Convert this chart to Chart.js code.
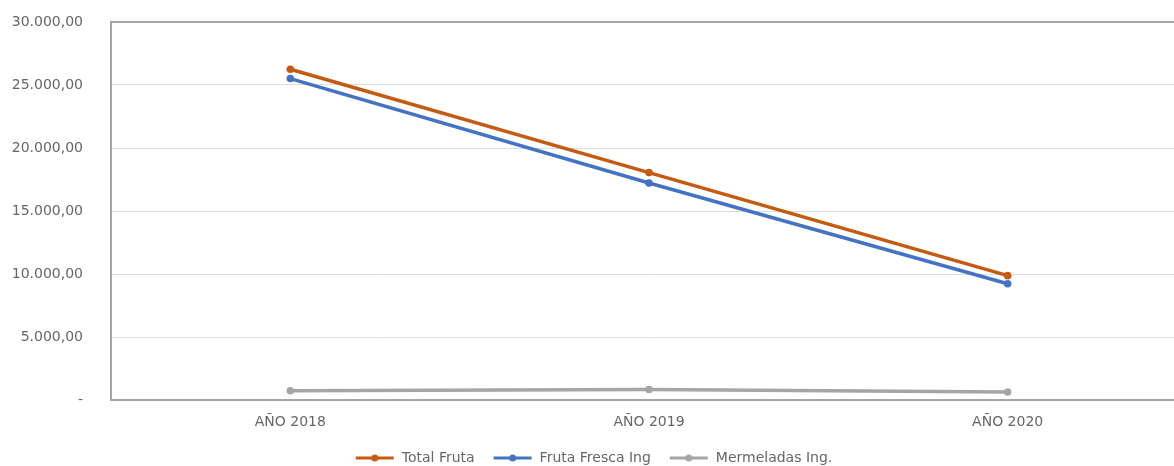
<!DOCTYPE html>
<html>
<head>
<meta charset="utf-8">
<script src="https://cdn.jsdelivr.net/npm/chart.js@4"></script>
<style>
  html, body { margin: 0; padding: 0; background: #fff; overflow: hidden; }
  #wrap { width: 1174px; height: 466px; overflow: hidden; }
</style>
</head>
<body>
<div id="wrap"><canvas id="chart" width="1200" height="475"></canvas></div>
<script>
const years = ['AÑO 2018', 'AÑO 2019', 'AÑO 2020'];
const totalFruta = [26250, 18050, 9870];
const frutaFresca = [25510, 17220, 9230];
const mermeladas = [740, 830, 640];
const seriesNames = ['Total Fruta', 'Fruta Fresca Ing', 'Mermeladas Ing.'];
const seriesColors = ['#C55A11', '#4472C4', '#A5A5A5'];

const textColor = '#666666';
const fontFamily = "'DejaVu Sans', sans-serif";

// formats 25000 as 25.000,00, zero as a dash like the spreadsheet
function fmt(v) {
  if (v === 0) return '-';
  const s = Math.round(v).toString().replace(/\B(?=(\d{3})+(?!\d))/g, '.');
  return s + ',00';
}

// small line+dot icon for the legend
function legendIcon(color) {
  const c = document.createElement('canvas');
  c.width = 40; c.height = 10;
  const g = c.getContext('2d');
  g.strokeStyle = color;
  g.lineWidth = 3;
  g.beginPath(); g.moveTo(1, 5); g.lineTo(39, 5); g.stroke();
  g.fillStyle = color;
  g.beginPath(); g.arc(20, 5, 3.5, 0, Math.PI * 2); g.fill();
  return c;
}

const data = [totalFruta, frutaFresca, mermeladas];
const datasets = data.map((d, i) => ({
  label: seriesNames[i],
  data: d,
  borderColor: seriesColors[i],
  backgroundColor: seriesColors[i],
  borderWidth: 3.5,
  pointRadius: 3.8,
  pointBorderWidth: 0,
  pointHoverRadius: 3.8,
  pointStyle: 'circle',
  tension: 0
}));

new Chart(document.getElementById('chart'), {
  type: 'line',
  data: { labels: years, datasets: datasets },
  options: {
    responsive: false,
    animation: false,
    layout: { padding: { top: 22, right: 13, left: 0, bottom: 0 } },
    plugins: {
      tooltip: { enabled: false },
      legend: {
        position: 'bottom',
        labels: {
          color: textColor,
          font: { family: fontFamily, size: 14 },
          padding: 18,
          usePointStyle: true,
          pointStyleWidth: 40,
          generateLabels(chart) {
            return chart.data.datasets.map((ds, i) => ({
              text: ds.label,
              fontColor: textColor,
              pointStyle: legendIcon(seriesColors[i]),
              strokeStyle: seriesColors[i],
              fillStyle: seriesColors[i],
              lineWidth: 0,
              hidden: false,
              datasetIndex: i
            }));
          }
        }
      }
    },
    scales: {
      x: {
        offset: true,
        grid: { display: false, drawTicks: false },
        border: { display: true, color: '#A6A6A6', width: 2 },
        ticks: { color: textColor, font: { family: fontFamily, size: 14 }, padding: 14 },
        afterFit(scale) { scale.height = 33; }
      },
      y: {
        min: 0,
        max: 30000,
        ticks: {
          stepSize: 5000,
          color: textColor,
          font: { family: fontFamily, size: 14 },
          padding: 28,
          callback: v => fmt(v)
        },
        grid: {
          drawTicks: false,
          color: c => c.tick && c.tick.value === 30000 ? '#A6A6A6' : '#DDDDDD',
          lineWidth: c => c.tick && c.tick.value === 30000 ? 2 : 1
        },
        border: { display: true, color: '#A6A6A6', width: 2 },
        afterFit(scale) {
          scale.width = 111;
          scale.paddingTop = 0;
          scale.paddingBottom = 0;
        }
      }
    }
  }
});
</script>
</body>
</html>
